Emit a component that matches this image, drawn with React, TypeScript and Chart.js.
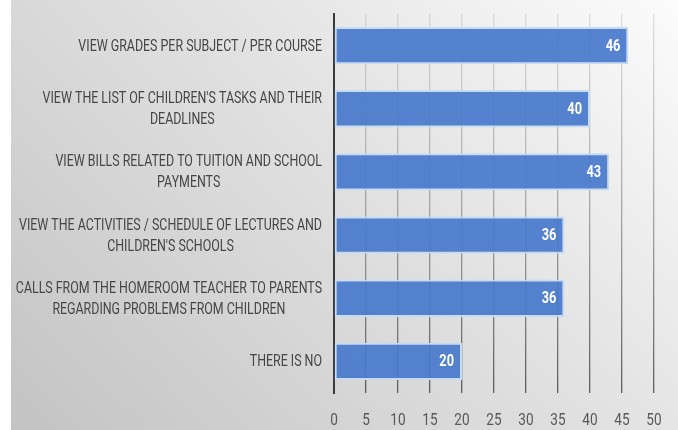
import React, { useEffect, useRef } from "react";
import { Chart, registerables } from "chart.js";

Chart.register(...registerables);

const categories: string[][] = [
  ["VIEW GRADES PER SUBJECT / PER COURSE"],
  ["VIEW THE LIST OF CHILDREN'S TASKS AND THEIR", "DEADLINES"],
  ["VIEW BILLS RELATED TO TUITION AND SCHOOL", "PAYMENTS"],
  ["VIEW THE ACTIVITIES / SCHEDULE OF LECTURES AND", "CHILDREN'S SCHOOLS"],
  ["CALLS FROM THE HOMEROOM TEACHER TO PARENTS", "REGARDING PROBLEMS FROM CHILDREN"],
  ["THERE IS NO"],
];
const values: number[] = [46, 40, 43, 36, 36, 20];
const xTickValues: number[] = [0, 5, 10, 15, 20, 25, 30, 35, 40, 45, 50];

const FONT = 'Roboto, "Open Sans", sans-serif';
const SQUEEZE = 0.8;
const LABEL_SQUEEZE = 0.775;

function drawSqueezed(ctx: CanvasRenderingContext2D, text: string, x: number, y: number, k: number) {
  ctx.save();
  ctx.translate(x, y);
  ctx.scale(k, 1);
  ctx.fillText(text, 0, 0);
  ctx.restore();
}

const bgPlugin = {
  id: "bg",
  beforeDraw(chart: any) {
    const { ctx, width, height } = chart;
    ctx.save();
    ctx.fillStyle = "#ffffff";
    ctx.fillRect(0, 0, width, height);
    const g = ctx.createLinearGradient(11, height, width * 0.85, -height * 0.3);
    g.addColorStop(0, "#c3c3c3");
    g.addColorStop(0.55, "#e2e2e2");
    g.addColorStop(1, "#fdfdfd");
    ctx.fillStyle = g;
    ctx.fillRect(11, 0, width - 11, height);
    ctx.restore();
  },
};

const textPlugin = {
  id: "texts",
  afterDraw(chart: any) {
    const ctx = chart.ctx as CanvasRenderingContext2D;
    const y = chart.scales.y;
    const x = chart.scales.x;
    ctx.save();
    ctx.font = `16px ${FONT}`;
    ctx.fillStyle = "#454545";
    ctx.textBaseline = "middle";
    ctx.textAlign = "center";
    const right = 322;
    const lineH = 21;
    categories.forEach((lines, i) => {
      const cy = y.getPixelForTick(i);
      const maxW = Math.max(...lines.map((l) => ctx.measureText(l).width)) * LABEL_SQUEEZE;
      const cx = right - maxW / 2;
      lines.forEach((l, j) => {
        drawSqueezed(ctx, l, cx, cy + (j - (lines.length - 1) / 2) * lineH + 1, LABEL_SQUEEZE);
      });
    });
    ctx.font = `17px ${FONT}`;
    ctx.fillStyle = "#595959";
    xTickValues.forEach((v) => {
      drawSqueezed(ctx, String(v), x.getPixelForValue(v), 421, SQUEEZE);
    });
    ctx.restore();
  },
};

const valueLabelPlugin = {
  id: "vlabels",
  afterDatasetsDraw(chart: any) {
    const ctx = chart.ctx as CanvasRenderingContext2D;
    const meta = chart.getDatasetMeta(0);
    ctx.save();
    ctx.font = `bold 16px ${FONT}`;
    ctx.fillStyle = "#ffffff";
    ctx.textAlign = "right";
    ctx.textBaseline = "middle";
    meta.data.forEach((bar: any, i: number) => {
      drawSqueezed(ctx, String(values[i]), bar.x - 8, bar.y + 1, SQUEEZE);
    });
    ctx.restore();
  },
};

function gridColor(c: any) {
  const chart = c.chart;
  const area = chart.chartArea;
  if (!area) return "rgba(120,120,120,0.5)";
  const g = chart.ctx.createLinearGradient(0, area.top, 0, area.bottom);
  g.addColorStop(0, "rgba(170,170,170,0.35)");
  g.addColorStop(0.5, "rgba(110,110,110,0.55)");
  g.addColorStop(1, "rgba(70,70,70,0.85)");
  return g;
}

export default function App() {
  const ref = useRef<HTMLCanvasElement | null>(null);
  useEffect(() => {
    document.body.style.margin = "0";
    if (!ref.current) return;
    const chart = new Chart(ref.current, {
      type: "bar",
      data: {
        labels: categories.map((c) => c.join(" ")),
        datasets: [
          {
            data: values,
            backgroundColor: "rgba(72,122,204,0.93)",
            borderColor: "#c6daf2",
            borderWidth: 2,
            borderSkipped: false,
            barPercentage: 0.59,
            categoryPercentage: 1,
          },
        ],
      },
      options: {
        indexAxis: "y",
        animation: false,
        responsive: false,
        layout: { padding: { left: 0, right: 24, top: 14, bottom: 0 } },
        plugins: { legend: { display: false }, tooltip: { enabled: false } },
        scales: {
          x: {
            min: 0,
            max: 50,
            ticks: { stepSize: 5, display: false },
            grid: { color: gridColor, lineWidth: 1.3, drawTicks: false },
            border: { display: false },
            afterFit(scale: any) {
              scale.height = 37;
            },
          },
          y: {
            ticks: { display: false },
            grid: { display: false },
            border: { display: true, color: "#3a3a3a", width: 2 },
            afterFit(scale: any) {
              scale.width = 334;
            },
          },
        },
      },
      plugins: [bgPlugin, textPlugin, valueLabelPlugin],
    });
    return () => chart.destroy();
  }, []);
  return (
    <div style={{ width: 678, height: 430 }}>
      <canvas ref={ref} width={678} height={430} style={{ display: "block" }} />
    </div>
  );
}
